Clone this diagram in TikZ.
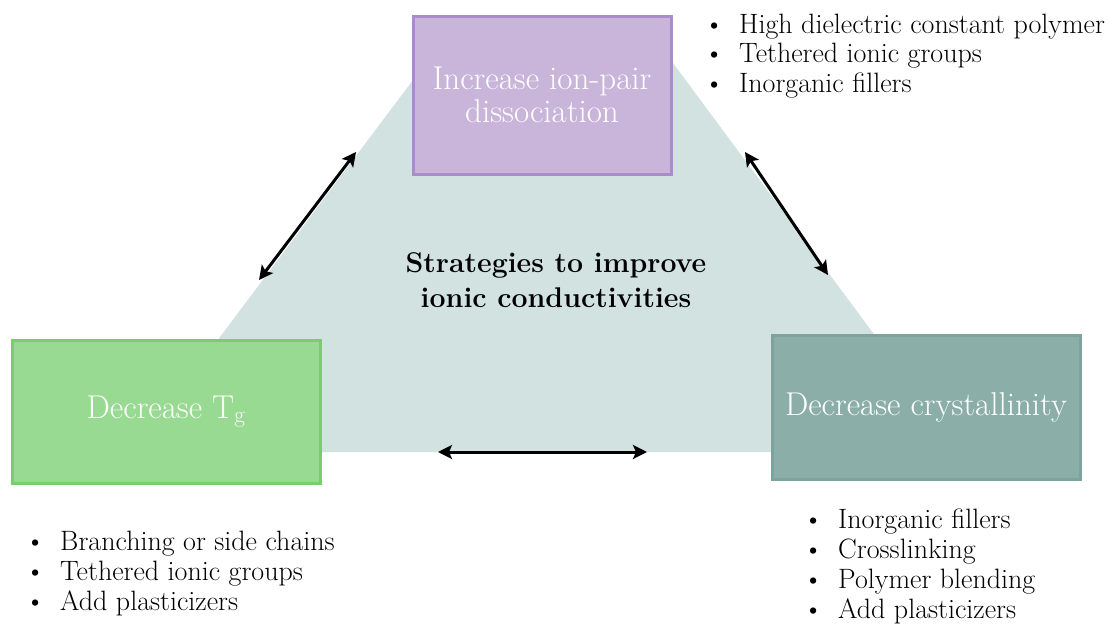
\documentclass[tikz,border=0pt]{standalone}
\usepackage{fontspec}
\usetikzlibrary{arrows.meta}
\definecolor{bgshape}{HTML}{D1E2E1}
\definecolor{purplefill}{HTML}{C9B4DA}
\definecolor{purpleline}{HTML}{AA8CC8}
\definecolor{greenfill}{HTML}{99DA92}
\definecolor{greenline}{HTML}{79CD6C}
\definecolor{tealfill}{HTML}{8BAEA9}
\definecolor{tealline}{HTML}{7DA39E}
\newcommand{\bul}[1]{\makebox[35pt][l]{\textbullet}#1}
\tikzset{
  boxnode/.style={draw, line width=3pt, inner sep=0pt, align=center, text=white,
    font=\fontsize{33}{33}\selectfont},
  listnode/.style={anchor=base west, inner sep=0pt, font=\fontsize{28}{30}\selectfont},
  twoway/.style={line width=3pt, {Stealth[length=14pt,width=14pt,inset=3pt]}-{Stealth[length=14pt,width=14pt,inset=3pt]}}
}
\begin{document}
\begin{tikzpicture}[x=1pt,y=-1pt]
\useasboundingbox (0,0) rectangle (1110,624);
\fill[white] (0,0) rectangle (1110,624);
% background trapezoid
\fill[bgshape] (450.6,30) -- (648.5,30) -- (961.2,452) -- (133.6,452) -- cycle;
% boxes
\node[boxnode, fill=purplefill, draw=purpleline, minimum width=258pt, minimum height=158pt] (ion) at (542,95) {Increase ion-pair\\dissociation};
\node[boxnode, fill=greenfill, draw=greenline, minimum width=308pt, minimum height=143pt] (tg) at (166,411.5) {Decrease T\textsubscript{g}};
\node[boxnode, fill=tealfill, draw=tealline, minimum width=308pt, minimum height=144pt] (cry) at (926,407) {Decrease crystallinity};
% title
\node[align=center, inner sep=0pt, font=\fontsize{28.5}{35}\selectfont\bfseries] (title) at (556,280) {Strategies to improve\\ionic conductivities};
% lists
\node[listnode, font=\fontsize{28}{29.5}\selectfont] (listion) at (704,33) {\begin{tabular}[t]{@{}l@{}}\bul{High dielectric constant polymer}\\ \bul{Tethered ionic groups}\\ \bul{Inorganic fillers}\end{tabular}};
\node[listnode] (listtg) at (25,550) {\begin{tabular}[t]{@{}l@{}}\bul{Branching or side chains}\\ \bul{Tethered ionic groups}\\ \bul{Add plasticizers}\end{tabular}};
\node[listnode] (listcry) at (803,528) {\begin{tabular}[t]{@{}l@{}}\bul{Inorganic fillers}\\ \bul{Crosslinking}\\ \bul{Polymer blending}\\ \bul{Add plasticizers}\end{tabular}};
% arrows
\coordinate (la1) at (259,280);
\coordinate (la2) at (356,152);
\coordinate (ra1) at (745,152);
\coordinate (ra2) at (828,275);
\coordinate (ba1) at (438,452);
\coordinate (ba2) at (647,452);
\draw[twoway] (la1) -- (la2);
\draw[twoway] (ra1) -- (ra2);
\draw[twoway] (ba1) -- (ba2);
\end{tikzpicture}
\end{document}
